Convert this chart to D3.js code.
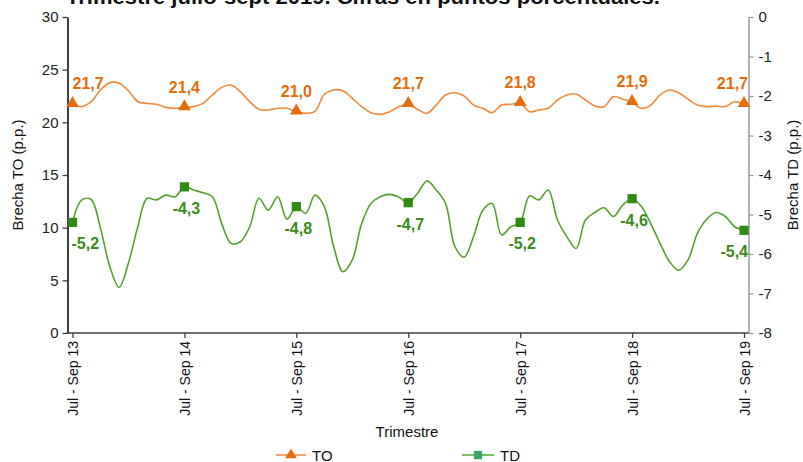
<!DOCTYPE html>
<html>
<head>
<meta charset="utf-8">
<script src="https://cdn.jsdelivr.net/npm/d3@7"></script>
<style>
  html, body { margin: 0; padding: 0; background: #fff; }
  svg { display: block; }
  text { font-family: "Liberation Sans", Arial, sans-serif; }
</style>
</head>
<body>
<svg id="chart" width="803" height="462"></svg>
<script>
// ---------- DATA ----------
const monthNames = ["Ene","Feb","Mar","Abr","May","Jun","Jul","Ago","Sep","Oct","Nov","Dic"];
const tickLabels = ["Jul - Sep 13","Jul - Sep 14","Jul - Sep 15","Jul - Sep 16","Jul - Sep 17","Jul - Sep 18","Jul - Sep 19"];
// Rolling quarters, Jul-Sep 13 ... Jul-Sep 19 (73 periods)
const categories = d3.range(73).map(i => {
  const s = (6 + i) % 12, e = (8 + i) % 12;
  const yr = 13 + Math.floor((8 + i) / 12);
  return monthNames[s] + " - " + monthNames[e] + " " + yr;
});
// Brecha TO (p.p.) - left axis
const seriesTO = [
  21.7, 21.49, 21.96, 23.07, 23.77, 23.7, 23.0, 21.96, 21.8, 21.71, 21.42, 21.33,
  21.4, 21.49, 21.8, 22.6, 23.32, 23.54, 22.91, 21.96, 21.23, 21.17, 21.33, 21.33,
  21.0, 20.86, 21.05, 22.65, 23.07, 23.0, 22.28, 21.49, 20.92, 20.76, 21.01, 21.49,
  21.7, 21.23, 20.86, 21.64, 22.6, 22.81, 22.5, 21.64, 21.33, 20.92, 21.64, 21.71,
  21.8, 21.01, 21.17, 21.33, 22.12, 22.6, 22.69, 22.12, 21.55, 21.49, 22.44, 22.2,
  21.9, 21.33, 21.64, 22.6, 23.07, 22.81, 22.2, 21.64, 21.49, 21.55, 21.49, 21.96,
  21.7
];
// Brecha TD (p.p.) - right axis
const seriesTD = [
  -5.2, -4.63, -4.62, -5.35, -6.32, -6.84, -6.23, -5.31, -4.59, -4.63, -4.51, -4.55,
  -4.3, -4.38, -4.45, -4.55, -5.23, -5.73, -5.69, -5.31, -4.59, -4.89, -4.55, -5.12,
  -4.8, -4.97, -4.51, -4.8, -5.81, -6.45, -6.15, -5.23, -4.72, -4.55, -4.49, -4.56,
  -4.7, -4.46, -4.15, -4.38, -4.72, -5.81, -6.08, -5.56, -4.89, -4.72, -5.52, -5.31,
  -5.2, -4.53, -4.63, -4.38, -5.14, -5.56, -5.86, -5.14, -4.95, -4.83, -5.05, -4.76,
  -4.6, -4.8, -5.23, -5.73, -6.19, -6.41, -6.15, -5.48, -5.12, -4.95, -5.05, -5.31,
  -5.4
];
const leftTicks = [0, 5, 10, 15, 20, 25, 30];
const rightTicks = [0, -1, -2, -3, -4, -5, -6, -7, -8];
const seriesNames = ["TO", "TD"];
const titleText = "Trimestre julio-sept 2019. Cifras en puntos porcentuales.";

// ---------- LAYOUT ----------
const svg = d3.select("#chart");
const axL = 67.5, axR = 748.5, plotTop = 17, plotBottom = 333;
const x = d3.scalePoint().domain(categories).range([72.5, 744]);
const yL = d3.scaleLinear().domain([0, 30]).range([plotBottom, plotTop]);
const yR = d3.scaleLinear().domain([-8, 0]).range([plotBottom, plotTop]);
const fmt = v => d3.format(".1f")(v).replace(".", ",").replace("\u2212", "-");
const markIdx = d3.range(0, 73, 12);

const C = {
  toLine: "#F08A3C", toMark: "#E46C0A", toLabel: "#E46C0A",
  tdLine: "#55A02E", tdMark: "#2E8A10", tdLabel: "#3A8C1B",
  legTOLine: "#F4A46C", legTDLine: "#7DBE5C", legTDMark: "#3BA466"
};
const narrow = "'Liberation Sans Narrow','Arial Narrow','Liberation Sans',sans-serif";

// Title (clipped at top in the original)
svg.append("text").attr("x", 66).attr("y", 4)
  .attr("font-size", 20).attr("font-weight", "bold").attr("fill", "#111")
  .attr("textLength", 594).attr("lengthAdjust", "spacingAndGlyphs")
  .text(titleText);

// Left axis
const gL = svg.append("g").attr("transform", `translate(${axL},0)`)
  .call(d3.axisLeft(yL).tickValues(leftTicks).tickSize(5).tickSizeOuter(0));
gL.select(".domain").attr("stroke", "#404040").attr("stroke-width", 2);
gL.selectAll(".tick line").attr("stroke", "#404040").attr("stroke-width", 1.3);
gL.selectAll(".tick text").attr("font-size", 15).attr("fill", "#222")
  .attr("font-family", narrow).attr("x", -9);

// Right axis
const gR = svg.append("g").attr("transform", `translate(${axR},0)`)
  .call(d3.axisRight(yR).tickValues(rightTicks).tickSize(5).tickSizeOuter(0).tickFormat(d => d === 0 ? "0" : "-" + Math.abs(d)));
gR.select(".domain").attr("stroke", "#9a9a9a").attr("stroke-width", 1.5);
gR.selectAll(".tick line").attr("stroke", "#9a9a9a").attr("stroke-width", 1.2);
gR.selectAll(".tick text").attr("font-size", 15).attr("fill", "#222")
  .attr("font-family", narrow).attr("x", 10);

// Bottom axis
const gB = svg.append("g").attr("transform", `translate(0,${plotBottom})`)
  .call(d3.axisBottom(x).tickValues(markIdx.map(i => categories[i])).tickSize(5).tickSizeOuter(0)
    .tickFormat((d, i) => tickLabels[i]));
gB.select(".domain").remove();
gB.selectAll(".tick line").attr("stroke", "#404040").attr("stroke-width", 1.3);
gB.selectAll(".tick text").attr("font-size", 14).attr("fill", "#111")
  .attr("transform", "rotate(-90)").attr("text-anchor", "end")
  .attr("x", -8).attr("y", 0).attr("dy", "0.36em");
svg.append("line").attr("x1", axL - 1).attr("x2", axR).attr("y1", plotBottom).attr("y2", plotBottom)
  .attr("stroke", "#404040").attr("stroke-width", 1.5);

// Axis titles
svg.append("text").attr("transform", "translate(23,175) rotate(-90)").attr("text-anchor", "middle")
  .attr("font-size", 15).attr("fill", "#111").text("Brecha TO (p.p.)");
svg.append("text").attr("transform", "translate(798,175) rotate(-90)").attr("text-anchor", "middle")
  .attr("font-size", 15).attr("fill", "#111").text("Brecha TD (p.p.)");
svg.append("text").attr("x", 407).attr("y", 437).attr("text-anchor", "middle")
  .attr("font-size", 15).attr("fill", "#111").text("Trimestre");

// Lines
const curve = d3.curveCatmullRom.alpha(0.5);
const lineTO = d3.line().x((d, i) => x(categories[i])).y(d => yL(d)).curve(curve);
const lineTD = d3.line().x((d, i) => x(categories[i])).y(d => yR(d)).curve(curve);
svg.append("path").datum(seriesTO).attr("d", lineTO).attr("fill", "none")
  .attr("stroke", C.toLine).attr("stroke-width", 1.6);
svg.append("path").datum(seriesTD).attr("d", lineTD).attr("fill", "none")
  .attr("stroke", C.tdLine).attr("stroke-width", 1.6);

// Markers
const tri = d3.symbol().type(d3.symbolTriangle).size(70);
const sq = d3.symbol().type(d3.symbolSquare).size(85);
svg.append("g").selectAll("path").data(markIdx).join("path")
  .attr("d", tri).attr("fill", C.toMark)
  .attr("transform", i => `translate(${x(categories[i])},${yL(seriesTO[i]) - 1})`);
svg.append("g").selectAll("path").data(markIdx).join("path")
  .attr("d", sq).attr("fill", C.tdMark)
  .attr("transform", i => `translate(${x(categories[i])},${yR(seriesTD[i])})`);

// Data labels
const anchorFor = (k, n) => k === 0 ? "start" : (k === n - 1 ? "end" : "middle");
svg.append("g").selectAll("text").data(markIdx).join("text")
  .attr("x", (i, k) => x(categories[i]) + (k === markIdx.length - 1 ? 4 : 0))
  .attr("y", i => yL(seriesTO[i]) - 15)
  .attr("text-anchor", (i, k) => anchorFor(k, markIdx.length))
  .attr("font-size", 16).attr("font-weight", "bold").attr("fill", C.toLabel)
  .text(i => fmt(seriesTO[i]));
svg.append("g").selectAll("text").data(markIdx).join("text")
  .attr("x", (i, k) => x(categories[i]) + (k === 0 ? -1 : (k === markIdx.length - 1 ? 4 : 2)))
  .attr("y", i => yR(seriesTD[i]) + 27)
  .attr("text-anchor", (i, k) => anchorFor(k, markIdx.length))
  .attr("font-size", 16).attr("font-weight", "bold").attr("fill", C.tdLabel)
  .text(i => fmt(seriesTD[i]));

// Legend
const leg = [
  { name: seriesNames[0], x1: 276, x2: 306, lc: C.legTOLine, mc: C.toMark, sym: tri },
  { name: seriesNames[1], x1: 462, x2: 494, lc: C.legTDLine, mc: C.legTDMark, sym: sq }
];
const lg = svg.append("g").selectAll("g").data(leg).join("g");
lg.append("line").attr("x1", d => d.x1).attr("x2", d => d.x2).attr("y1", 455).attr("y2", 455)
  .attr("stroke", d => d.lc).attr("stroke-width", 2);
lg.append("path").attr("d", d => d.sym()).attr("fill", d => d.mc)
  .attr("transform", d => `translate(${(d.x1 + d.x2) / 2},455) scale(0.9)`);
lg.append("text").attr("x", d => d.x2 + 6).attr("y", 460.5).attr("font-size", 15).attr("fill", "#111")
  .text(d => d.name);
</script>
</body>
</html>
